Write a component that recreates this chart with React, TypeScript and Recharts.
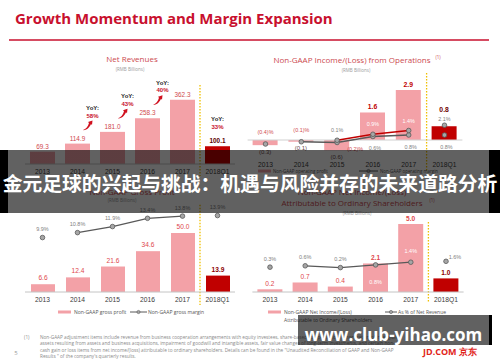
import React from "react";
import { ComposedChart, Bar, Line, XAxis, YAxis, ReferenceLine, LabelList, Cell } from "recharts";

if (typeof document !== "undefined") document.body.style.margin = "0";

const years = ["2013", "2014", "2015", "2016", "2017", "2018Q1"];

// net revenues, RMB bn
const netRevenues = [69.3, 114.9, 181.0, 258.3, 362.3, 100.1];
const revenueYoY = ["", "", "58%", "43%", "40%", "33%"];

// non-GAAP income/(loss) from operations, RMB bn, and margins in %
const opIncome = [-0.3, -0.1, -0.6, 1.6, 2.9, 0.8];
const opMarginOld = [-0.4, -0.1, -0.2, 0.6, 0.8, 0.8];
const opMarginNew = [null, null, 0.1, 0.9, 1.4, 2.1];

// non-GAAP gross profit, RMB bn, and margin in %
const grossProfit = [6.6, 12.4, 21.6, 34.6, 50.0, 13.9];
const grossMargin = [9.9, 10.8, 11.9, 13.4, 13.8, 13.9];

// non-GAAP net income attributable to ordinary shareholders, RMB bn, and % of revenue
const netIncome = [0.2, 0.7, 0.4, 2.1, 5.0, 1.0];
const netMargin = [0.3, 0.6, 0.2, 0.8, 1.4, 1.6];

const footnote = [
  "Non-GAAP adjustment items include revenue from business cooperation arrangements with equity investees, share-based compensation, amortization of intangible",
  "assets resulting from assets and business acquisitions, impairment of goodwill and intangible assets, fair value changes of long-term investments, and certain non-",
  "cash gain or loss items from net income/(loss) attributable to ordinary shareholders. Details can be found in the \"Unaudited Reconciliation of GAAP and Non-GAAP",
  "Results \" of the company's quarterly results.",
];

const W = 500;
const H = 362;
const FONT = "'Liberation Sans', Arial, sans-serif";
const SANS = "'Open Sans', 'Noto Sans', sans-serif";
const PINK = "#f3a1a7";
const DARK = "#c00000";
const RED = "#c8102e";
const LBL = "#d0494e";
const GRAY_TXT = "#7f7f7f";
const LINE_GRAY = "#595959";
const YELLOW = "#f0c000";
const DOT = { r: 2.3, fill: "#a6a6a6", stroke: "#595959", strokeWidth: 0.8 };

const mid = (i: number, from: number) => i >= from && i <= 4;

const rows = years.map((year, i) => ({
  i,
  year,
  rev: netRevenues[i],
  op: opIncome[i],
  omOld: opMarginOld[i],
  omOldLine: mid(i, 1) ? opMarginOld[i] : null,
  omOldDot: mid(i, 1) ? null : opMarginOld[i],
  omNew: opMarginNew[i],
  omNewLine: mid(i, 2) ? opMarginNew[i] : null,
  omNewDot: i === 5 ? opMarginNew[i] : null,
  gp: grossProfit[i],
  gm: grossMargin[i],
  gmLine: mid(i, 1) ? grossMargin[i] : null,
  gmDot: mid(i, 1) ? null : grossMargin[i],
  ni: netIncome[i],
  nm: netMargin[i],
  nmLine: mid(i, 1) ? netMargin[i] : null,
  nmDot: mid(i, 1) ? null : netMargin[i],
}));

function box(p: any) {
  const vb = p.viewBox || {};
  const x = p.x ?? vb.x ?? 0;
  const y = p.y ?? vb.y ?? 0;
  const w = p.width ?? vb.width ?? 0;
  const h = p.height ?? vb.height ?? 0;
  return { cx: x + w / 2, top: Math.min(y, y + h), bottom: Math.max(y, y + h), px: x, py: y };
}

function T({ x, y, children, size = 6, fill = "#555", weight = 400, anchor = "middle", font = FONT }: any) {
  return (
    <text x={x} y={y} fontSize={size} fill={fill} fontWeight={weight} textAnchor={anchor} dominantBaseline="central" fontFamily={font}>
      {children}
    </text>
  );
}

const pct = (v: number) => (v < 0 ? `(${Math.abs(v).toFixed(1)})%` : `${v.toFixed(1)}%`);
const bn = (v: number) => (v < 0 ? `(${Math.abs(v).toFixed(1)})` : v.toFixed(1));

function Chili({ x, y }: any) {
  return (
    <path
      transform={`translate(${x},${y})`}
      d="M-5,4.5 C-2,3.5 0,1 1,-2.5 L0,-3.5 L4.5,-5 L4,-0.5 L3,-1.5 C1.5,2 -1,4.8 -5,4.5 Z"
      fill="#d0101e"
    />
  );
}

const revLabel = (p: any) => {
  const i = p.index;
  if (i == null) return null;
  const { cx, top } = box(p);
  const q1 = i === 5;
  const next = revenueYoY[i + 1];
  return (
    <g>
      {q1 && (
        <g>
          <T x={cx} y={top - 27} size={6} fill="#222" weight={700}>YoY:</T>
          <T x={cx} y={top - 19} size={6} fill={RED} weight={700}>{revenueYoY[5]}</T>
        </g>
      )}
      <T x={cx} y={top - 5.5} size={6.4} fill={q1 ? "#5c0000" : LBL} weight={q1 ? 700 : 400}>
        {netRevenues[i].toFixed(1)}
      </T>
      {next && i + 1 < 5 && (
        <g>
          <T x={cx + 15} y={top - 35.5} size={6} fill="#222" weight={700}>YoY:</T>
          <T x={cx + 15} y={top - 28} size={6} fill={RED} weight={700}>{next}</T>
          <Chili x={cx + 10.5} y={top - 18} />
        </g>
      )}
    </g>
  );
};

const opLabel = (p: any) => {
  const i = p.index;
  if (i == null) return null;
  const { cx, top, bottom } = box(p);
  const v = opIncome[i];
  if (v < 0) return <T x={cx} y={bottom + 6.5} size={6} fill="#6b4a4a">{bn(v)}</T>;
  if (i === 5) return <T x={cx} y={top - 17} size={6.8} fill="#6e0000" weight={700}>{bn(v)}</T>;
  return <T x={cx} y={top - 6} size={6.8} fill={DARK} weight={700}>{bn(v)}</T>;
};

const omOldLabel = (p: any) => {
  const i = p.index;
  if (i == null || opMarginOld[i] == null) return null;
  const { px, py } = box(p);
  const v = opMarginOld[i];
  if (v < 0 && i === 2) return <T x={px + 18} y={py + 6} size={5.4} fill={LBL}>{pct(v)}</T>;
  if (v < 0) return <T x={px} y={py - 12} size={5.4} fill={LBL}>{pct(v)}</T>;
  return <T x={px + 2} y={py + 11.5} size={5.4} fill={GRAY_TXT}>{pct(v)}</T>;
};

const omNewLabel = (p: any) => {
  const i = p.index;
  if (i == null || opMarginNew[i] == null) return null;
  const { px, py } = box(p);
  const v = opMarginNew[i] as number;
  const inside = i === 3 || i === 4;
  return (
    <T x={px} y={py - (i === 5 ? 6 : 10)} size={5.4} fill={inside ? "#ffffff" : GRAY_TXT}>
      {pct(v)}
    </T>
  );
};

const gpLabel = (p: any) => {
  const i = p.index;
  if (i == null) return null;
  const { cx, top } = box(p);
  const q1 = i === 5;
  return (
    <T x={cx} y={top - 6.5} size={6.6} fill={q1 ? "#8b0000" : "#e0474c"} weight={q1 ? 700 : 400}>
      {grossProfit[i].toFixed(1)}
    </T>
  );
};

const gmLabel = (p: any) => {
  const i = p.index;
  if (i == null) return null;
  const { px, py } = box(p);
  return <T x={px} y={py - 8.5} size={5.5} fill={GRAY_TXT}>{pct(grossMargin[i])}</T>;
};

const niLabel = (p: any) => {
  const i = p.index;
  if (i == null) return null;
  const { cx, top } = box(p);
  const v = netIncome[i];
  const q1 = i === 5;
  return (
    <T x={cx} y={top - 6} size={6.6} fill={q1 ? "#8b0000" : "#e0474c"} weight={v >= 1 ? 700 : 400}>
      {v.toFixed(1)}
    </T>
  );
};

const nmLabel = (p: any) => {
  const i = p.index;
  if (i == null) return null;
  const { px, py } = box(p);
  const v = netMargin[i];
  if (i === 3) return <T x={px} y={py + 17} size={5.5} fill="#ffffff">{pct(v)}</T>;
  if (i === 4) return <T x={px} y={py - 11} size={5.5} fill="#ffffff">{pct(v)}</T>;
  if (i === 5) return <T x={px + 9} y={py - 4} size={5.5} fill={GRAY_TXT}>{pct(v)}</T>;
  return <T x={px} y={py - 8.5} size={5.5} fill={GRAY_TXT}>{pct(v)}</T>;
};

const xAxisProps = (tickMargin: number, showLine: boolean) => ({
  type: "number" as const,
  dataKey: "i",
  domain: [-0.5, 5.5],
  ticks: [0, 1, 2, 3, 4, 5],
  interval: 0,
  tickFormatter: (v: number) => years[v],
  tickSize: 0,
  tickMargin,
  height: 14,
  tickLine: false,
  axisLine: showLine ? { stroke: "#c4c4c4" } : false,
  tick: { fontSize: 6.7, fill: "#3a3a3a", fontFamily: FONT },
});

const lineCommon = {
  type: "linear" as const,
  isAnimationActive: false,
  activeDot: false,
  connectNulls: false,
};

function Layer({ children }: any) {
  return <div style={{ position: "absolute", left: 0, top: 0 }}>{children}</div>;
}

function NetRevenueChart() {
  return (
    <Layer>
      <ComposedChart width={W} height={H} data={rows} margin={{ top: 93, right: 265, bottom: 184, left: 25 }}>
        <XAxis {...xAxisProps(5.6, true)} />
        <YAxis yAxisId="bar" hide domain={[0, 400]} />
        <ReferenceLine yAxisId="bar" segment={[{ x: 4.5, y: 445 }, { x: 4.5, y: -67 }]} stroke={YELLOW} strokeWidth={1.3} strokeDasharray="1.5 1.5" ifOverflow="visible" />
        <Bar yAxisId="bar" dataKey="rev" barSize={25} isAnimationActive={false}>
          {rows.map((r) => <Cell key={r.i} fill={r.i === 5 ? DARK : PINK} />)}
          <LabelList content={revLabel} />
        </Bar>
      </ComposedChart>
    </Layer>
  );
}

function OperatingChart() {
  return (
    <Layer>
      <ComposedChart width={W} height={H} data={rows} margin={{ top: 79.8, right: 37.6, bottom: 190.8, left: 247.6 }}>
        <XAxis {...xAxisProps(5.4, false)} />
        <YAxis yAxisId="bar" hide domain={[-1, 3.5]} />
        <YAxis yAxisId="pct" hide domain={[-2.16, 8.16]} orientation="right" />
        <ReferenceLine yAxisId="bar" y={0} stroke="#d0d0d0" strokeWidth={1} />
        <ReferenceLine yAxisId="bar" segment={[{ x: 4.5, y: 3.9 }, { x: 4.5, y: -1.8 }]} stroke={YELLOW} strokeWidth={1.3} strokeDasharray="1.5 1.5" ifOverflow="visible" />
        <Bar yAxisId="bar" dataKey="op" barSize={25} isAnimationActive={false}>
          {rows.map((r) => <Cell key={r.i} fill={r.i === 5 ? DARK : PINK} />)}
          <LabelList content={opLabel} />
        </Bar>
        <Line {...lineCommon} yAxisId="pct" dataKey="omOldLine" stroke={LINE_GRAY} strokeWidth={1.3} dot={DOT} />
        <Line {...lineCommon} yAxisId="pct" dataKey="omOldDot" stroke="none" dot={DOT} />
        <Line {...lineCommon} yAxisId="pct" dataKey="omNewLine" stroke={DARK} strokeWidth={1.3} dot={DOT} />
        <Line {...lineCommon} yAxisId="pct" dataKey="omNewDot" stroke="none" dot={DOT} />
        <Line {...lineCommon} yAxisId="pct" dataKey="omOld" stroke="none" dot={false}>
          <LabelList content={omOldLabel} />
        </Line>
        <Line {...lineCommon} yAxisId="pct" dataKey="omNew" stroke="none" dot={false}>
          <LabelList content={omNewLabel} />
        </Line>
      </ComposedChart>
    </Layer>
  );
}

function GrossProfitChart() {
  return (
    <Layer>
      <ComposedChart width={W} height={H} data={rows} margin={{ top: 200, right: 265, bottom: 56, left: 25 }}>
        <XAxis {...xAxisProps(4.9, true)} />
        <YAxis yAxisId="bar" hide domain={[0, 77.97]} />
        <YAxis yAxisId="pct" hide domain={[0, 16.73]} orientation="right" />
        <ReferenceLine yAxisId="bar" segment={[{ x: 4.5, y: 74 }, { x: 4.5, y: -11 }]} stroke={YELLOW} strokeWidth={1.3} strokeDasharray="1.5 1.5" ifOverflow="visible" />
        <Bar yAxisId="bar" dataKey="gp" barSize={24} isAnimationActive={false}>
          {rows.map((r) => <Cell key={r.i} fill={r.i === 5 ? DARK : PINK} />)}
          <LabelList content={gpLabel} />
        </Bar>
        <Line {...lineCommon} yAxisId="pct" dataKey="gmLine" stroke={LINE_GRAY} strokeWidth={1.3} dot={DOT} />
        <Line {...lineCommon} yAxisId="pct" dataKey="gmDot" stroke="none" dot={DOT} />
        <Line {...lineCommon} yAxisId="pct" dataKey="gm" stroke="none" dot={false}>
          <LabelList content={gmLabel} />
        </Line>
      </ComposedChart>
    </Layer>
  );
}

function NetIncomeChart() {
  return (
    <Layer>
      <ComposedChart width={W} height={H} data={rows} margin={{ top: 200, right: 36.4, bottom: 56, left: 252.4 }}>
        <XAxis {...xAxisProps(4.9, true)} />
        <YAxis yAxisId="bar" hide domain={[0, 6.765]} />
        <YAxis yAxisId="pct" hide domain={[-5.22, 15.22]} orientation="right" />
        <ReferenceLine yAxisId="bar" segment={[{ x: 4.5, y: 5.15 }, { x: 4.5, y: -0.75 }]} stroke={YELLOW} strokeWidth={1.3} strokeDasharray="1.5 1.5" ifOverflow="visible" />
        <Bar yAxisId="bar" dataKey="ni" barSize={25} isAnimationActive={false}>
          {rows.map((r) => <Cell key={r.i} fill={r.i === 5 ? DARK : PINK} />)}
          <LabelList content={niLabel} />
        </Bar>
        <Line {...lineCommon} yAxisId="pct" dataKey="nmLine" stroke={LINE_GRAY} strokeWidth={1.3} dot={DOT} />
        <Line {...lineCommon} yAxisId="pct" dataKey="nmDot" stroke="none" dot={DOT} />
        <Line {...lineCommon} yAxisId="pct" dataKey="nm" stroke="none" dot={false}>
          <LabelList content={nmLabel} />
        </Line>
      </ComposedChart>
    </Layer>
  );
}

function LegendBar({ x, y }: any) {
  return <rect x={x} y={y - 1.5} width={13} height={3} fill={PINK} />;
}

function LegendLine({ x1, x2, y }: any) {
  return (
    <g>
      <line x1={x1} x2={x2} y1={y} y2={y} stroke={LINE_GRAY} strokeWidth={1} />
      <circle cx={(x1 + x2) / 2} cy={y} r={1.6} fill="#a6a6a6" stroke={LINE_GRAY} strokeWidth={0.6} />
    </g>
  );
}

function Decorations() {
  const titleRed = "#cc4a4f";
  return (
    <svg width={W} height={H} style={{ position: "absolute", left: 0, top: 0 }}>
      <text x={15} y={17.5} fontSize={15} fontWeight={700} fill={RED} dominantBaseline="central" fontFamily={SANS}>
        Growth Momentum and Margin Expansion
      </text>
      <line x1={9} x2={489} y1={40} y2={40} stroke={RED} strokeWidth={1.4} />

      <T x={132} y={58} size={8} fill={titleRed} font={SANS}>Net Revenues</T>
      <T x={130} y={69} size={4.5} fill="#9a9a9a" font={SANS}>(RMB Billions)</T>

      <T x={352} y={59} size={8} fill={titleRed} font={SANS}>Non-GAAP Income/(Loss) from Operations</T>
      <T x={438} y={57} size={4.5} fill={titleRed} font={SANS}>(1)</T>
      <T x={356} y={70} size={4.5} fill="#9a9a9a" font={SANS}>(RMB Billions)</T>

      <T x={132} y={191} size={8} fill={titleRed} font={SANS}>Non-GAAP Gross Profit</T>
      <T x={122} y={200} size={4.5} fill="#9a9a9a" font={SANS}>(RMB Billions)</T>

      <T x={352} y={191} size={8} fill={titleRed} font={SANS}>Non-GAAP Net Income/(Loss)</T>
      <T x={352} y={202} size={8} fill={titleRed} font={SANS}>Attributable to Ordinary Shareholders</T>
      <T x={432} y={200} size={4.5} fill={titleRed} font={SANS}>(1)</T>
      <T x={357} y={213} size={4.5} fill="#9a9a9a" font={SANS}>(RMB Billions)</T>

      <LegendBar x={258} y={171} />
      <T x={273} y={171} size={4.4} fill="#555" anchor="start" font={SANS}>Non-GAAP operating profit</T>
      <LegendLine x1={359} x2={378} y={171} />
      <T x={380} y={171} size={4.4} fill="#555" anchor="start" font={SANS}>Non-GAAP operating margin</T>

      <LegendBar x={58} y={312} />
      <T x={74} y={312} size={5} fill="#555" anchor="start" font={SANS}>Non-GAAP gross profit</T>
      <LegendLine x1={130} x2={147} y={312} />
      <T x={148} y={312} size={5} fill="#555" anchor="start" font={SANS}>Non-GAAP gross margin</T>

      <LegendBar x={268} y={312} />
      <T x={284} y={312} size={5} fill="#555" anchor="start" font={SANS}>Non-GAAP Net Income/(Loss)</T>
      <T x={284} y={320} size={5} fill="#555" anchor="start" font={SANS}>Attributable to Ordinary Shareholders</T>
      <LegendLine x1={385} x2={397} y={312} />
      <T x={398} y={312} size={5} fill="#555" anchor="start" font={SANS}>As % of Net Revenue</T>

      <T x={24} y={336.5} size={4.7} fill="#8a8a8a" anchor="start" font={SANS}>(1)</T>
      {footnote.map((line, k) => (
        <T key={k} x={40} y={336.5 + k * 6.6} size={4.7} fill="#8a8a8a" anchor="start" font={SANS}>
          {line}
        </T>
      ))}
      <T x={16} y={353} size={6} fill="#9a9a9a" font={SANS}>5</T>
      <T x={423} y={351} size={9} fill="#e1251b" weight={700} anchor="start" font={SANS}>JD.COM 京东</T>
    </svg>
  );
}

function Overlays() {
  return (
    <>
      <div
        style={{
          position: "absolute",
          left: 0,
          top: 150,
          width: W,
          height: 63,
          background: "linear-gradient(to right, #000 0px, #000 8px, rgba(0,0,0,0.62) 8px, rgba(0,0,0,0.62) 489px, #000 489px)",
        }}
      />
      <div
        style={{
          position: "absolute",
          left: 0,
          top: 170,
          width: W,
          textAlign: "center",
          color: "#fff",
          fontSize: 19.8,
          lineHeight: "26px",
          fontWeight: 700,
          whiteSpace: "nowrap",
          fontFamily: "'Noto Sans CJK SC', sans-serif",
        }}
      >
        金元足球的兴起与挑战：机遇与风险并存的未来道路分析
      </div>
      <div style={{ position: "absolute", left: 298, top: 315, width: 191, height: 30, background: "rgba(0,0,0,0.62)" }} />
      <div style={{ position: "absolute", left: 489, top: 315, width: 3, height: 30, background: "#000" }} />
      <div
        style={{
          position: "absolute",
          left: 298,
          top: 323,
          width: 191,
          textAlign: "center",
          color: "#fff",
          fontSize: 17,
          fontWeight: 700,
          whiteSpace: "nowrap",
          fontFamily: SANS,
        }}
      >
        www.club-yihao.com
      </div>
    </>
  );
}

export default function App() {
  return (
    <div style={{ position: "relative", width: W, height: H, background: "#fff", overflow: "hidden" }}>
      <NetRevenueChart />
      <OperatingChart />
      <GrossProfitChart />
      <NetIncomeChart />
      <Decorations />
      <Overlays />
    </div>
  );
}
